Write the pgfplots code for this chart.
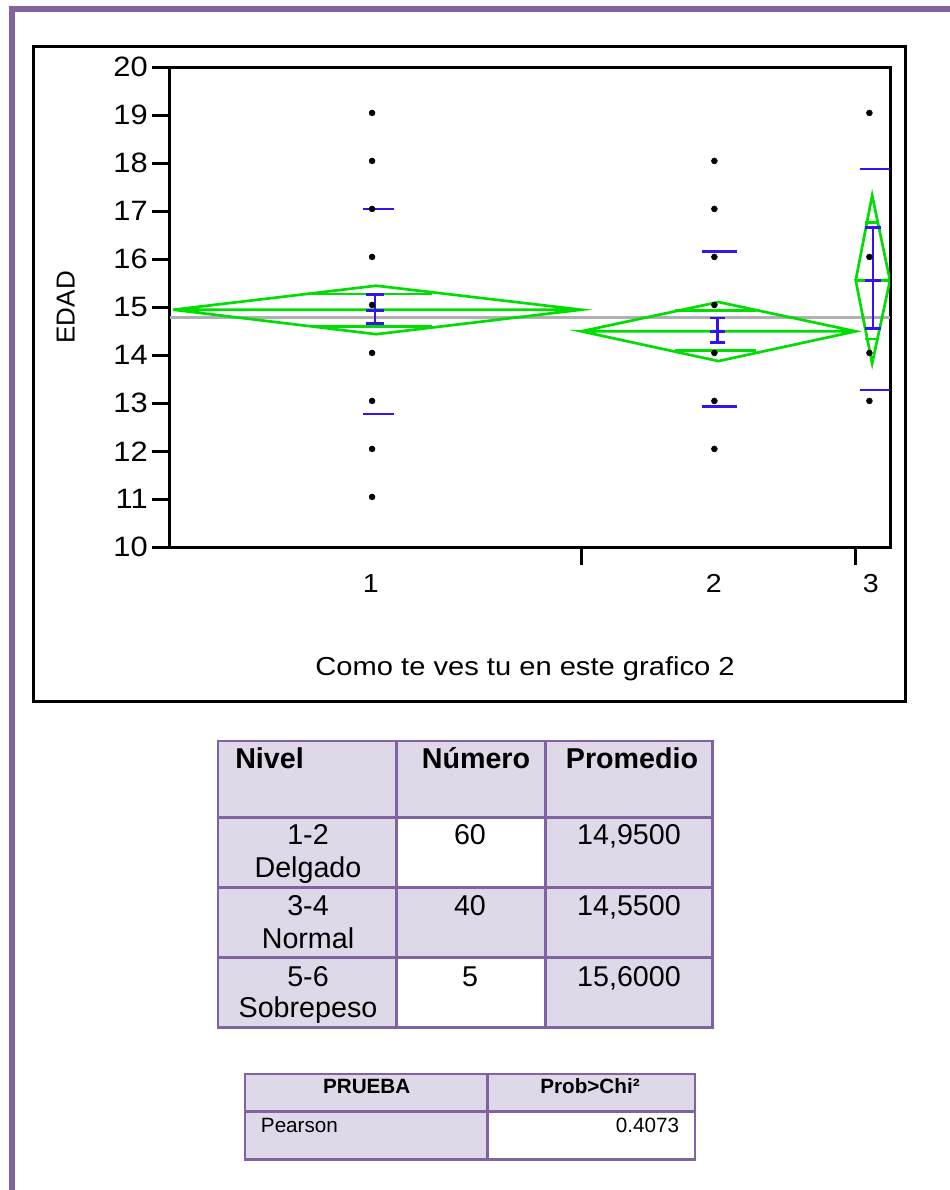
\documentclass[border=0pt]{standalone}
\usepackage{fontspec}
\setmainfont{Liberation Sans}
\newfontfamily\chartfont{Liberation Sans}[FakeStretch=1.1]
\newfontfamily\labfont{Liberation Sans}[FakeStretch=1.12]
\usepackage{pgfplots}
\pgfplotsset{compat=1.18}
\definecolor{jpurple}{RGB}{128,100,162}
\definecolor{jlav}{RGB}{223,216,232}
\definecolor{jgreen}{RGB}{0,221,0}
\definecolor{jblue}{RGB}{50,20,240}
\definecolor{jgray}{RGB}{176,176,176}
\begin{document}
\begin{tikzpicture}
\useasboundingbox (0,0) rectangle (712.5pt,892.5pt);
\fill[white] (0,0) rectangle (712.5pt,892.5pt);
\begin{scope}[shift={(0pt,892.5pt)}, x=0.75pt, y=-0.75pt]
  % page border
  \fill[jpurple] (9,6) rectangle (950,12);
  \fill[jpurple] (9,6) rectangle (15,1190);
  % chart frame
  \draw[line width=2.25pt] (33.6,46.5) rectangle (905.5,701.4);
  % ---- table 1
  \fill[jlav] (218,741) rectangle (712.7,1027.7);
  \fill[white] (396.7,817.3) rectangle (545.3,887.3);
  \fill[white] (396.7,957.7) rectangle (545.3,1027.7);
  \draw[jpurple, line width=2pt] (218,741) rectangle (712.7,1027.7);
  \draw[jpurple, line width=2pt] (396.7,741) -- (396.7,1027.7) (545.3,741) -- (545.3,1027.7)
     (218,817.3) -- (712.7,817.3) (218,887.3) -- (712.7,887.3) (218,957.7) -- (712.7,957.7);
  \begin{scope}[every node/.style={inner sep=0pt, font=\fontsize{21.5}{25}\selectfont}]
    \node[anchor=base west, font=\fontsize{21.5}{25}\selectfont\bfseries] at (235,769) {Nivel};
    \node[anchor=base, font=\fontsize{21.5}{25}\selectfont\bfseries] at (476,769) {Número};
    \node[anchor=base, font=\fontsize{21.5}{25}\selectfont\bfseries] at (632,769) {Promedio};
    \node[anchor=base] at (308,845) {1-2};
    \node[anchor=base] at (308,878) {Delgado};
    \node[anchor=base] at (470,845) {60};
    \node[anchor=base] at (629,845) {14,9500};
    \node[anchor=base] at (308,916) {3-4};
    \node[anchor=base] at (308,949) {Normal};
    \node[anchor=base] at (470,916) {40};
    \node[anchor=base] at (629,916) {14,5500};
    \node[anchor=base] at (308,986.7) {5-6};
    \node[anchor=base] at (308,1018) {Sobrepeso};
    \node[anchor=base] at (470,986.7) {5};
    \node[anchor=base] at (629,986.7) {15,6000};
  \end{scope}
  % ---- table 2
  \fill[jlav] (245,1074) rectangle (695,1159.3);
  \fill[white] (487.3,1111.7) rectangle (695,1159.3);
  \draw[jpurple, line width=2pt] (245,1074) rectangle (695,1159.3);
  \draw[jpurple, line width=2pt] (487.3,1074) -- (487.3,1159.3) (245,1111.7) -- (695,1111.7);
  \begin{scope}[every node/.style={inner sep=0pt, font=\fontsize{15.5}{18}\selectfont}]
    \node[anchor=base, font=\fontsize{15.5}{18}\selectfont\bfseries] at (366.7,1094) {PRUEBA};
    \node[anchor=base, font=\fontsize{15.5}{18}\selectfont\bfseries] at (590,1094) {Prob>Chi²};
    \node[anchor=base west] at (260.7,1132.7) {Pearson};
    \node[anchor=base east] at (679.3,1132.7) {0.4073};
  \end{scope}
\end{scope}
\begin{axis}[
  at={(127.3pt,482.0pt)}, anchor=south west,
  scale only axis, width=540.2pt, height=360pt,
  xmin=0, xmax=105, ymin=10, ymax=20,
  ytick={10,11,...,20},
  xtick={60,100}, xticklabels={},
  extra x ticks={29.3,79.3,102.2},
  extra x tick labels={1,2,3},
  extra x tick style={major tick length=0pt},
  tick align=outside, xtick pos=bottom, ytick pos=left,
  major tick length=13pt,
  tick style={line width=2pt, black},
  axis line style={line width=2.25pt},
  /pgf/number format/assume math mode=true,
  yticklabel style={font=\chartfont\fontsize{21}{24}\selectfont},
  xticklabel style={font=\chartfont\fontsize{19.5}{22}\selectfont, yshift=-17pt},
  xlabel={Como te ves tu en este grafico 2},
  xlabel style={at={(axis description cs:0.4933,-0.2667)}, anchor=base, font=\labfont\fontsize{19.5}{22}\selectfont},
  ylabel={EDAD},
  ylabel style={at={(axis description cs:-0.1446,0.5)}, anchor=center, font=\fontsize{19.5}{22}\selectfont},
  unbounded coords=jump,
  clip=true,
]
% grand mean
\addplot[jgray, line width=1.9pt] coordinates {(0,14.79) (105,14.79)};
% mean diamonds
\addplot[jgreen, line width=2pt] coordinates {(0.5,14.95) (30.1,15.45) (60,14.95) (30.1,14.44) (0.5,14.95) (60,14.95)};
\addplot[jgreen, line width=2pt] coordinates {(20.8,15.28) (38.2,15.28) (nan,nan) (20.8,14.6) (38.2,14.6)};
\addplot[jgreen, line width=2pt] coordinates {(60,14.5) (80,15.11) (100,14.5) (80,13.88) (60,14.5) (100,14.5)};
\addplot[jgreen, line width=2pt] coordinates {(73.7,14.94) (85.5,14.94) (nan,nan) (73.7,14.1) (85.5,14.1)};
\addplot[jgreen, line width=2pt] coordinates {(100,15.56) (102.4,17.33) (105,15.56) (102.4,13.83) (100,15.56) (105,15.56)};
\addplot[jgreen, line width=2pt] coordinates {(101.4,16.77) (103.4,16.77) (nan,nan) (101.4,14.34) (103.4,14.34)};
% standard error bars and std dev lines
\addplot[jblue, line width=2pt] coordinates {(29.9,14.67) (29.9,15.27) (nan,nan) (28.6,15.27) (31.3,15.27) (nan,nan) (28.6,14.67) (31.3,14.67) (nan,nan) (28.6,14.94) (31.3,14.94) (nan,nan) (28.2,17.05) (32.7,17.05) (nan,nan) (28.2,12.78) (32.7,12.78)};
\addplot[jblue, line width=2pt] coordinates {(79.9,14.27) (79.9,14.78) (nan,nan) (78.8,14.78) (81.0,14.78) (nan,nan) (78.8,14.27) (81.0,14.27) (nan,nan) (78.8,14.5) (81.0,14.5) (nan,nan) (77.6,16.16) (82.7,16.16) (nan,nan) (77.6,12.94) (82.7,12.94)};
\addplot[jblue, line width=2pt] coordinates {(102.5,14.56) (102.5,16.66) (nan,nan) (101.3,16.66) (103.7,16.66) (nan,nan) (101.3,14.56) (103.7,14.56) (nan,nan) (101.3,15.56) (103.7,15.56) (nan,nan) (100.6,17.88) (105,17.88) (nan,nan) (100.6,13.28) (105,13.28)};
% observations
\addplot[only marks, mark=*, mark size=2.2pt, black] coordinates {
 (29.5,11.05) (29.5,12.05) (29.5,13.05) (29.5,14.05) (29.5,15.05) (29.5,16.05) (29.5,17.05) (29.5,18.05) (29.5,19.05)
 (79.4,12.05) (79.4,13.05) (79.4,14.05) (79.4,15.05) (79.4,16.05) (79.4,17.05) (79.4,18.05)
 (102,13.05) (102,14.05) (102,16.05) (102,19.05)};
\end{axis}
\end{tikzpicture}
\end{document}
